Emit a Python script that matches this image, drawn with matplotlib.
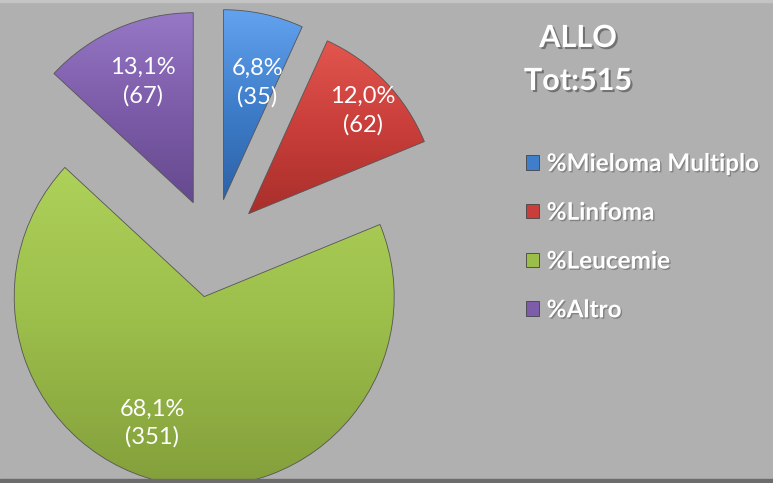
import numpy as np
import matplotlib
matplotlib.use('Agg')
import matplotlib.pyplot as plt
import matplotlib.patheffects as pe
from matplotlib.colors import LinearSegmentedColormap
from matplotlib.patches import Rectangle

# data
categories = ['%Mieloma Multiplo', '%Linfoma', '%Leucemie', '%Altro']
percent = [6.8, 12.0, 68.1, 13.1]
counts = [35, 62, 351, 67]
total = 515

col_mid = ['#3f7ecb', '#c93e3a', '#9bbd4a', '#7d5ca9']
col_light = ['#62a2ee', '#e2564f', '#aed15a', '#9678c6']
col_dark = ['#2c62a8', '#a82f2b', '#839f3b', '#654a8f']
label_r = [0.64, 0.81, 0.72, 0.69]
label_dang = [-4, -2, -12, -1]

W, H = 773, 483
R = 190.0          # pie radius in px
cx, cy = 213, 248  # pie centre in px (from top left)

fig = plt.figure(figsize=(W / 100, H / 100), dpi=100, facecolor='#b0b0b0')
ax = fig.add_axes([0, 0, 1, 1])
ax.set_facecolor('none')

wedges, _ = ax.pie(percent, startangle=90, counterclock=False,
                   explode=[0.26] * 4, radius=1, colors=col_mid,
                   wedgeprops=dict(edgecolor='#555555', linewidth=0.6))
ax.set_aspect('auto')
ax.axis('off')

# vertical shading inside each slice
for i, w in enumerate(wedges):
    bb = w.get_path().get_extents()
    cmap = LinearSegmentedColormap.from_list('g', [col_dark[i], col_mid[i], col_light[i]])
    grad = np.linspace(0, 1, 256)[:, None]
    im = ax.imshow(grad, cmap=cmap, origin='lower', aspect='auto',
                   extent=[bb.x0, bb.x1, bb.y0, bb.y1], zorder=2)
    im.set_clip_path(w)
    w.set_zorder(3)
    w.set_facecolor('none')

ax.set_xlim(-cx / R, (W - cx) / R)
ax.set_ylim(-(H - cy) / R, cy / R)

font = ['Lato', 'DejaVu Sans']
for i, w in enumerate(wedges):
    ang = np.deg2rad((w.theta1 + w.theta2) / 2 + label_dang[i])
    x = w.center[0] + label_r[i] * np.cos(ang)
    y = w.center[1] + label_r[i] * np.sin(ang)
    txt = ('%.1f%%' % percent[i]).replace('.', ',') + '\n(%d)' % counts[i]
    ax.text(x, y, txt, ha='center', va='center', color='white',
            fontsize=17, family=font, linespacing=1.4, zorder=5)

shadow = [pe.SimplePatchShadow(offset=(1.5, -1.5), shadow_rgbFace='black', alpha=0.35),
          pe.Normal()]
fig.text(578 / W, 1 - 47 / H, 'ALLO', ha='center', va='baseline', color='white',
         fontsize=22, fontweight='bold', family=font, path_effects=shadow)
fig.text(578 / W, 1 - 90 / H, 'Tot:%d' % total, ha='center', va='baseline', color='white',
         fontsize=22, fontweight='bold', family=font, path_effects=shadow)

leg = ax.legend(wedges, categories, loc='upper left',
                bbox_to_anchor=(526 / W, 1 - 152 / H), bbox_transform=fig.transFigure,
                frameon=False, borderpad=0, borderaxespad=0,
                handlelength=0.55, handleheight=0.55, handletextpad=0.3,
                labelspacing=1.06, prop=dict(family=font, weight='bold', size=17.5))
small_shadow = [pe.SimplePatchShadow(offset=(1, -1), shadow_rgbFace='black', alpha=0.25),
                pe.Normal()]
for t in leg.get_texts():
    t.set_color('white')
    t.set_path_effects(small_shadow)
for h, c in zip(leg.legend_handles, col_mid):
    h.set_facecolor(c)
    h.set_edgecolor('#444444')

fig.add_artist(Rectangle((0, 0), 1, 4 / H, transform=fig.transFigure,
                         color='#6c6c6c', zorder=10))
fig.add_artist(Rectangle((0, 1 - 2 / H), 1, 2 / H, transform=fig.transFigure,
                         color='#c4c4c4', zorder=10))

fig.savefig('out.png', dpi=100, facecolor=fig.get_facecolor())
